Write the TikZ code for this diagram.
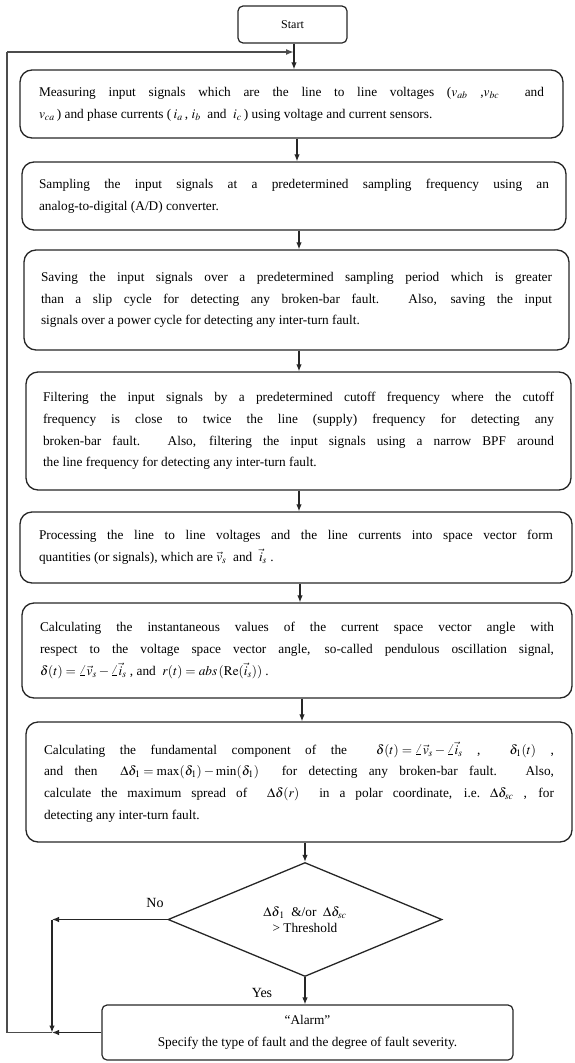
\documentclass[tikz,border=0pt]{standalone}
\usepackage{mathptmx}
\usepackage{fontspec}
\setmainfont{Liberation Serif}
\usetikzlibrary{arrows.meta,shapes.geometric}
\begin{document}
\begin{tikzpicture}[x=1pt,y=-1pt,
  stepbox/.style={draw=black!85,line width=1.3pt,rounded corners=12pt,inner sep=0pt,
    align=justify,font=\fontsize{13.3}{21.7}\selectfont,text=black},
  smallbox/.style={draw=black!85,line width=1.2pt,rounded corners=5pt,inner sep=0pt,
    align=center,text=black},
  decision/.style={draw=black!85,line width=1.3pt,diamond,inner sep=0pt,
    minimum width=274pt,minimum height=114pt,align=center,
    font=\fontsize{13.3}{18}\selectfont,text=black},
  arr/.style={draw=black!85,line width=1.2pt,-{Latex[length=7pt,width=5.5pt]}},
  loopline/.style={draw=black!70,line width=1.8pt},
  lbl/.style={inner sep=0pt,font=\fontsize{14}{16}\selectfont,text=black}
]
\useasboundingbox (0,0) rectangle (575,1063);

\node[smallbox,minimum width=109pt,minimum height=37pt,font=\fontsize{12}{14}\selectfont] (start) at (292.5,24.5) {Start};

\node[stepbox,minimum width=543pt,minimum height=68pt,text width=505pt] (b1) at (291.5,104)
{Measuring input signals which are the line to line voltages ($v_{ab}$ ,$v_{bc}$\ \ and\linebreak
$v_{ca}$\,) and phase currents (\,$i_a$\,, $i_b$\ \ and\ \ $i_c$\,) using voltage and current sensors.};

\node[stepbox,minimum width=544pt,minimum height=68pt,text width=510pt] (b2) at (294,196)
{Sampling the input signals at a predetermined sampling frequency using an\linebreak
analog-to-digital (A/D) converter.};

\node[stepbox,minimum width=545pt,minimum height=100pt,text width=511pt] (b3) at (296.5,300)
{Saving the input signals over a predetermined sampling period which is greater\linebreak
than a slip cycle for detecting any broken-bar fault. Also, saving the input\linebreak
signals over a power cycle for detecting any inter-turn fault.};

\node[stepbox,minimum width=545pt,minimum height=118pt,text width=511pt] (b4) at (298.5,431)
{Filtering the input signals by a predetermined cutoff frequency where the cutoff\linebreak
frequency is close to twice the line (supply) frequency for detecting any\linebreak
broken-bar fault. Also, filtering the input signals using a narrow BPF around\linebreak
the line frequency for detecting any inter-turn fault.};

\node[stepbox,minimum width=552pt,minimum height=71pt,text width=514pt] (b5) at (296,547.5)
{Processing the line to line voltages and the line currents into space vector form\linebreak
quantities (or signals), which are $\vec{v}_s$\ \ and\ \ $\vec{i}_s$\ .};

\node[stepbox,minimum width=550pt,minimum height=95pt,text width=514pt] (b6) at (297,650.5)
{Calculating the instantaneous values of the current space vector angle with\linebreak
respect to the voltage space vector angle, so-called pendulous oscillation signal,\linebreak
${\delta(t)=\angle\vec{v}_s-\angle\vec{i}_s}$\ , and\ \ ${r(t)=\mathit{abs}\,(\mathrm{Re}(\vec{i}_s))}$\ .};

\node[stepbox,minimum width=546pt,minimum height=120pt,text width=510pt] (b7) at (299,782)
{Calculating the fundamental component of the\ \ ${\delta(t)=\angle\vec{v}_s-\angle\vec{i}_s}$\ ,\ \ ${\delta_1(t)}$\ ,\linebreak
and then\ \ ${\Delta\delta_1=\max(\delta_1)-\min(\delta_1)}$\ \ for detecting any broken-bar fault. Also,\linebreak
calculate the maximum spread of\ \ ${\Delta\delta(r)}$\ \ in a polar coordinate, i.e.\ ${\Delta\delta_{sc}}$\ , for\linebreak
detecting any inter-turn fault.};

\node[decision] (dia) at (305,919.5)
{$\Delta\delta_{\,1}$\ \ \&/or\ \ $\Delta\delta_{sc}$\\[-2pt] > Threshold};

\node[smallbox,minimum width=411pt,minimum height=55pt,font=\fontsize{13.3}{22}\selectfont] (alarm) at (307.5,1032.5)
{“Alarm”\\ Specify the type of fault and the degree of fault severity.};

\node[lbl] (no) at (155,903) {No};
\node[lbl] (yes) at (262,993) {Yes};

\coordinate (top) at (294,52);
\coordinate (nox) at (52,918);
\coordinate (loopx) at (7,52);

% main flow
\draw[arr] (start.south -| top) -- (b1.north -| top);
\draw[arr] ([xshift=5.5pt]b1.south) -- ([xshift=3pt]b2.north);
\draw[arr] ([xshift=5pt]b2.south) -- ([xshift=2.5pt]b3.north);
\draw[arr] ([xshift=2.5pt]b3.south) -- ([xshift=0.5pt]b4.north);
\draw[arr] ([xshift=0.5pt]b4.south) -- ([xshift=3pt]b5.north);
\draw[arr] ([xshift=4pt]b5.south) -- ([xshift=3pt]b6.north);
\draw[arr] ([xshift=5pt]b6.south) -- ([xshift=3pt]b7.north);
\draw[arr] ([xshift=6pt]b7.south) -- (dia.north);
\draw[arr] (dia.south) -- (alarm.north -| dia.south);

% No branch and loop back
\draw[arr] (dia.west) -- (dia.west -| nox);
\draw[arr] (dia.west -| nox) -- (alarm.west -| nox);
\draw[arr] (alarm.west) -- (alarm.west -| nox);
\draw[loopline] (alarm.west -| nox) -- (alarm.west -| loopx) -- (loopx);
\draw[loopline,-{Latex[length=8pt,width=6pt]}] (loopx) -- (top);
\end{tikzpicture}
\end{document}
